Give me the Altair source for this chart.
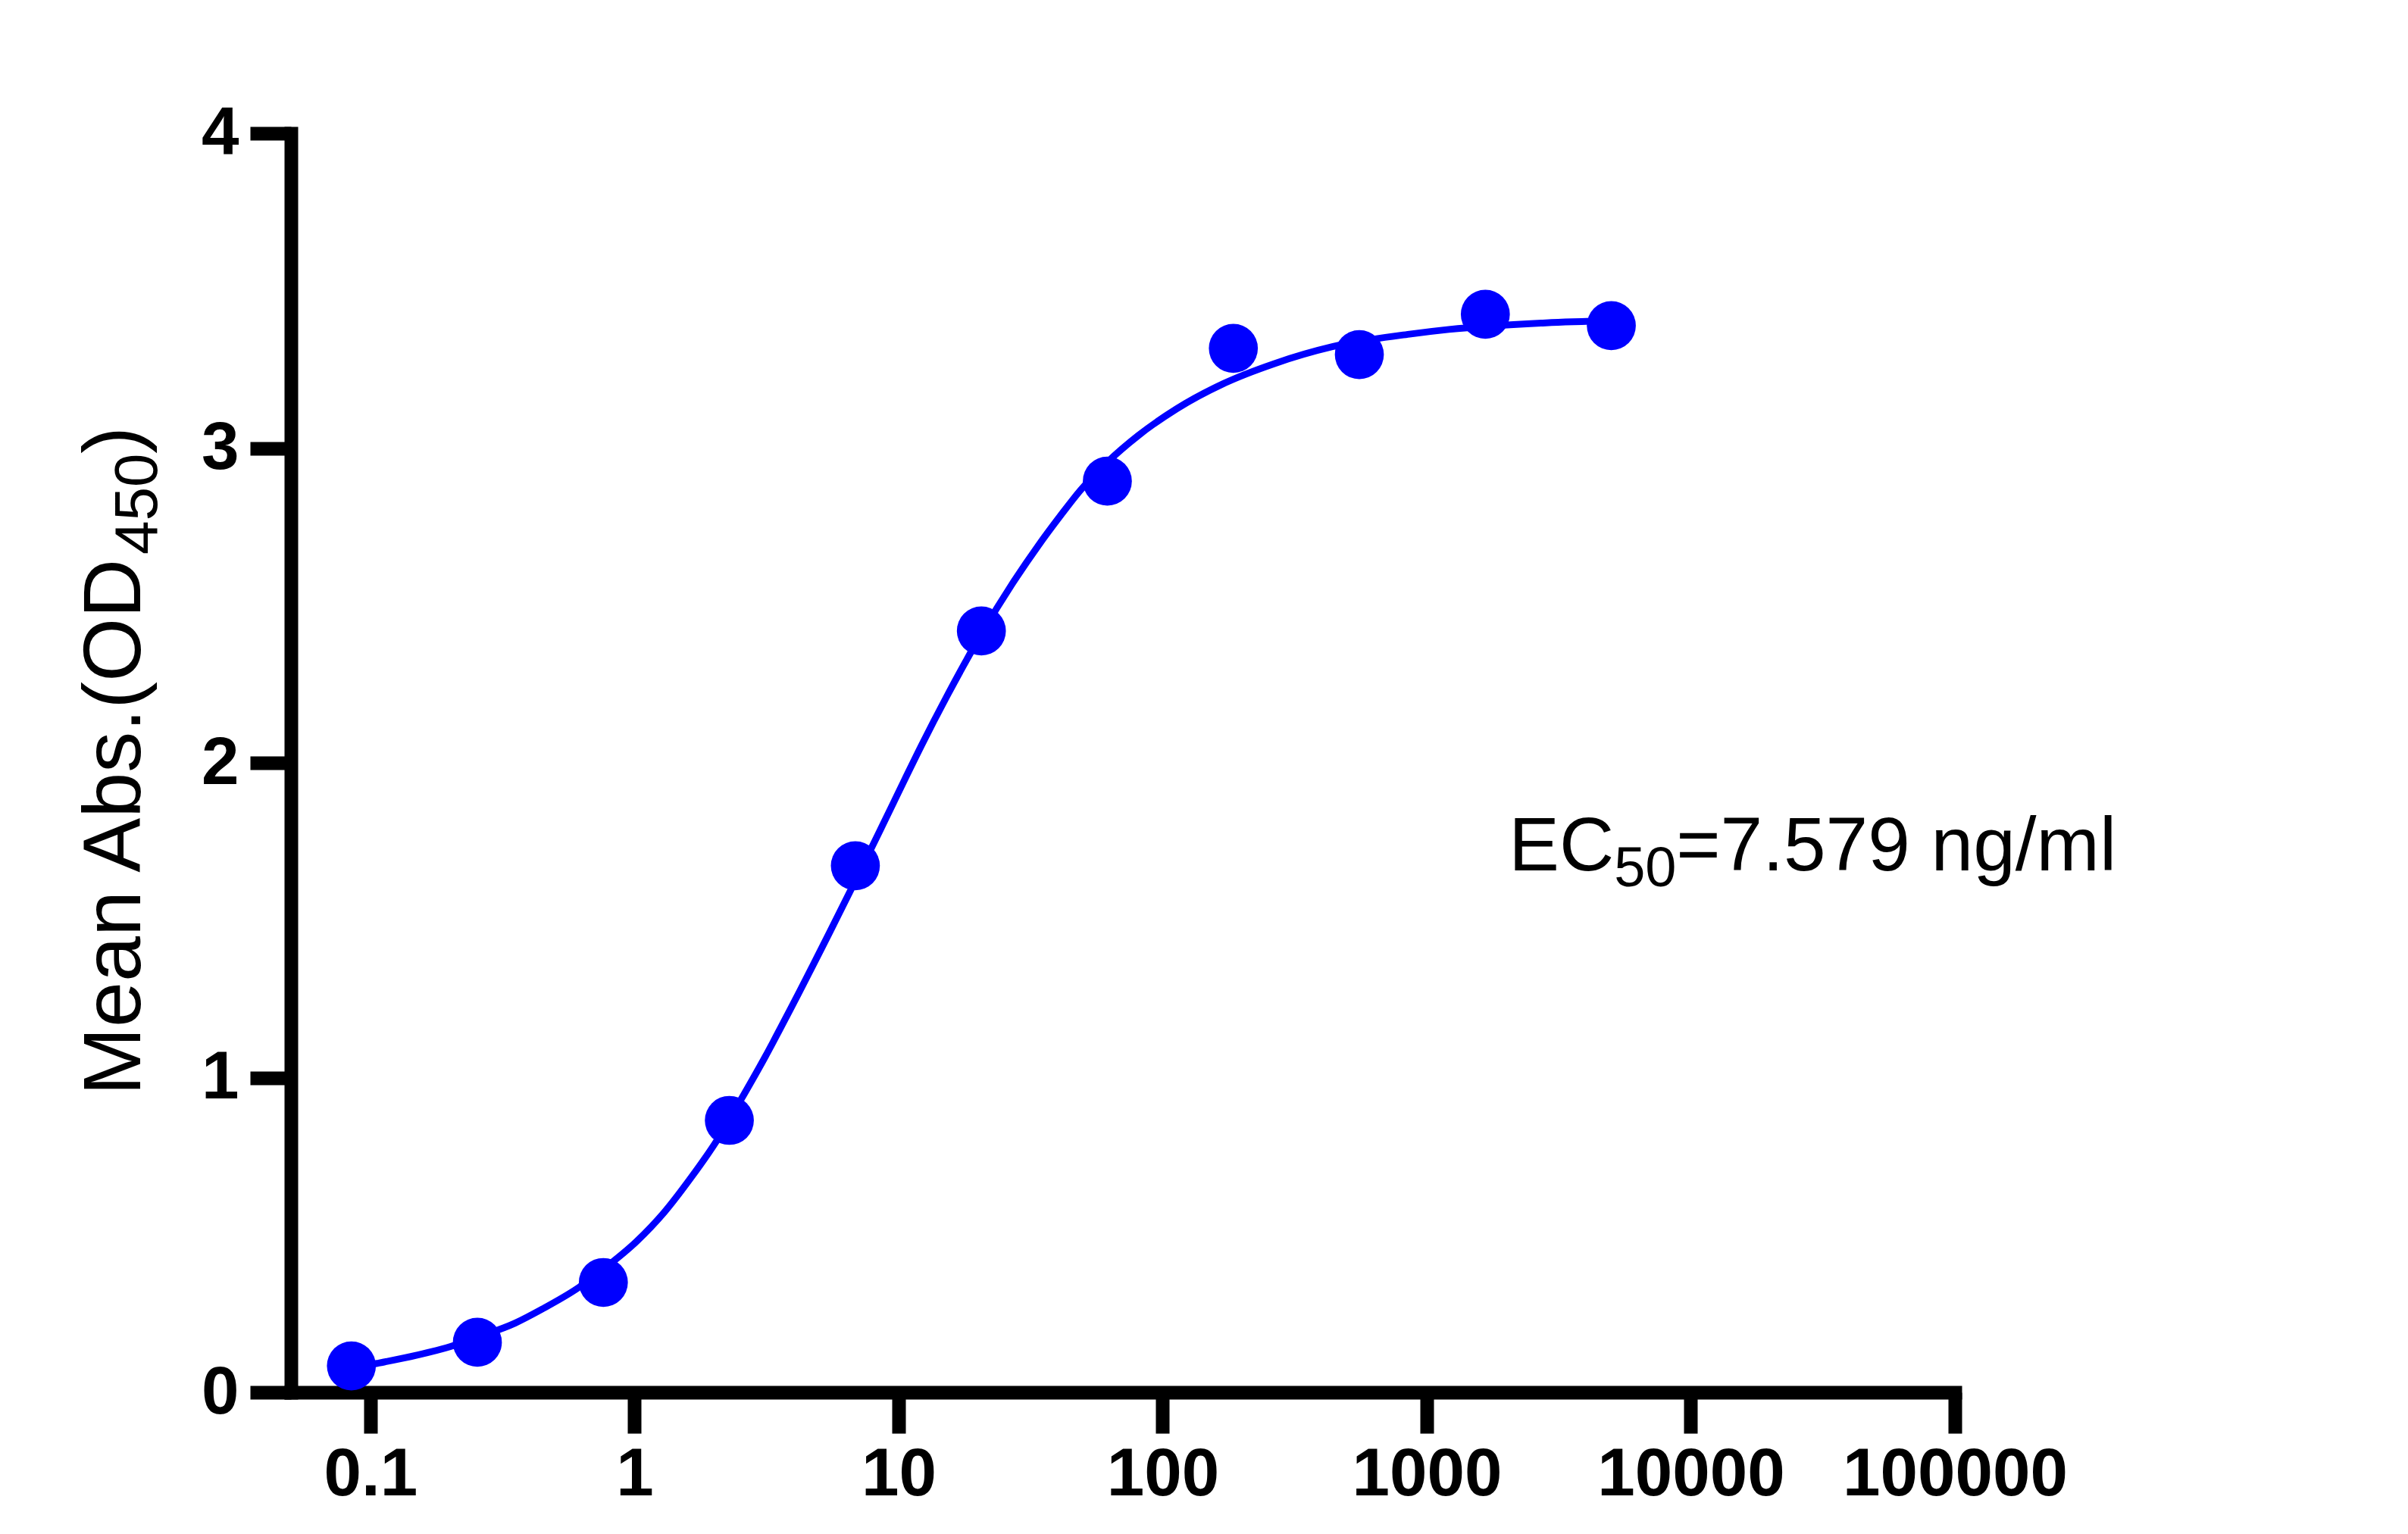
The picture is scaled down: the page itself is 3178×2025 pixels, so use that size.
import altair as alt
import pandas as pd

# measured means, 3-fold dilution series (ng/ml)
conc = [5000, 1666.7, 555.6, 185.2, 61.73, 20.58, 6.859, 2.286, 0.762, 0.254, 0.0847]
od450 = [3.389, 3.425, 3.297, 3.317, 2.895, 2.419, 1.673, 0.864, 0.349, 0.159, 0.084]

# fitted curve
curve_conc = [0.0847, 0.106, 0.15, 0.2, 0.254, 0.353, 0.448, 0.607, 0.759, 1.02,
              1.29, 1.63, 2.05, 2.53, 3.12, 3.88, 5.47, 6.86, 9.65, 12.2,
              15.2, 20.6, 27.0, 33.8, 41.0, 48.7, 61.7, 80.9, 113, 170,
              264, 439, 860, 1213, 2825, 5000]
curve_od = [0.077, 0.092, 0.118, 0.145, 0.175, 0.22, 0.265, 0.33, 0.39, 0.48,
            0.57, 0.68, 0.80, 0.93, 1.065, 1.215, 1.46, 1.625, 1.88, 2.055,
            2.21, 2.41, 2.57, 2.69, 2.785, 2.865, 2.955, 3.04, 3.125, 3.205,
            3.268, 3.322, 3.362, 3.377, 3.398, 3.405]

x_ticks = [0.1, 1, 10, 100, 1000, 10000, 100000]
y_ticks = [0, 1, 2, 3, 4]

title_parts = ["Mean Abs.(OD", "450", ")"]
ec50_parts = ["EC", "50", "=7.579 ng/ml"]
ec50_conc = 2044
ec50_od = 1.658

FONT = "Liberation Sans"
BLUE = "#0000ff"

x_scale = alt.Scale(type="log", domain=[0.05, 100000], nice=False)
y_scale = alt.Scale(domain=[0, 4], nice=False, zero=True)

axis_style = dict(
	title=None, grid=False, labelFont=FONT, labelFontSize=89, labelFontWeight="bold",
	labelColor="black", labelLimit=1000, tickSize=54, tickWidth=18, tickColor="black",
	domainWidth=18, domainColor="black", domainCap="square", labelOverlap=False,
	labelFlush=False
)

x_axis = alt.Axis(values=x_ticks, format=".1~f", labelPadding=11, **axis_style)
y_axis = alt.Axis(values=y_ticks, format="d", labelPadding=15, **axis_style)

curve = alt.Chart(pd.DataFrame({"conc": curve_conc, "od": curve_od})).mark_line(
	color=BLUE, strokeWidth=9, interpolate="monotone"
).encode(
	x=alt.X("conc:Q", scale=x_scale, axis=x_axis),
	y=alt.Y("od:Q", scale=y_scale, axis=y_axis)
)

points = alt.Chart(pd.DataFrame({"conc": conc, "od": od450})).mark_circle(
	color=BLUE, size=4185, opacity=1
).encode(
	x=alt.X("conc:Q", scale=x_scale),
	y=alt.Y("od:Q", scale=y_scale)
)


def ec50_piece(text, size, dx, dy):
	df = pd.DataFrame({"conc": [ec50_conc], "od": [ec50_od], "t": [text]})
	return alt.Chart(df).mark_text(
		align="left", baseline="alphabetic", font=FONT, fontSize=size,
		color="black", dx=dx, dy=dy
	).encode(x=alt.X("conc:Q", scale=x_scale), y=alt.Y("od:Q", scale=y_scale), text="t:N")


def title_piece(text, size, px, py):
	return alt.Chart(pd.DataFrame({"t": [text]})).mark_text(
		align="left", baseline="alphabetic", font=FONT, fontSize=size,
		color="black", angle=270
	).encode(x=alt.value(px), y=alt.value(py), text="t:N")


ec50 = [
	ec50_piece(ec50_parts[0], 100, 0, 0),
	ec50_piece(ec50_parts[1], 74, 139, 21),
	ec50_piece(ec50_parts[2], 100, 221, 0),
]

ytitle = [
	title_piece(title_parts[0], 108, -199, 1270),
	title_piece(title_parts[1], 80, -177, 556),
	title_piece(title_parts[2], 108, -199, 423),
]

chart = alt.layer(curve, points, *ec50, *ytitle).properties(
	width=2196,
	height=1662,
	autosize=alt.AutoSizeParams(type="none"),
	padding={"left": 376, "top": 168, "right": 580, "bottom": 160},
	background="white"
).configure_view(strokeWidth=0)

chart.save("out.html", embed_options={"renderer": "svg", "actions": False})
